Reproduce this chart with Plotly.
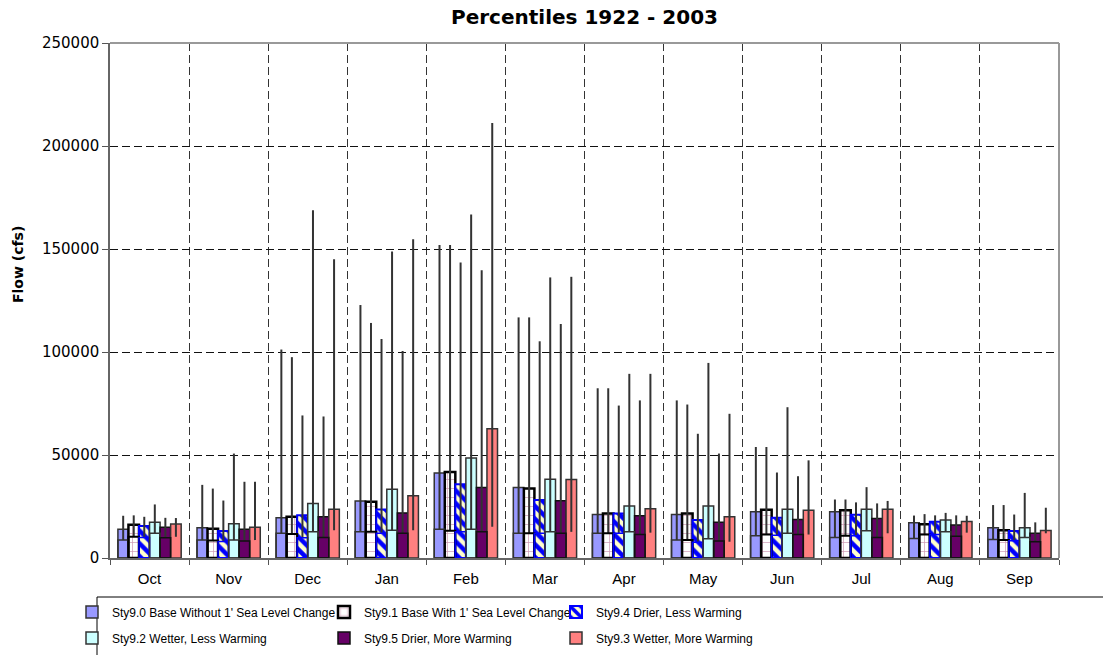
import plotly.graph_objects as go

# Months of the water year
months = ["Oct", "Nov", "Dec", "Jan", "Feb", "Mar", "Apr", "May", "Jun", "Jul", "Aug", "Sep"]

# Scenario names
names = [
    "Sty9.0 Base Without 1' Sea Level Change",
    "Sty9.1 Base With 1' Sea Level Change",
    "Sty9.4 Drier, Less Warming",
    "Sty9.2 Wetter, Less Warming",
    "Sty9.5 Drier, More Warming",
    "Sty9.3 Wetter, More Warming",
]

# Bar height (cfs) per scenario
bar_90 = [13900, 14700, 19500, 27700, 41300, 34200, 21100, 21100, 22400, 22400, 17100, 14700]
bar_91 = [16200, 14200, 20000, 27300, 41800, 33700, 21600, 21600, 23400, 23200, 16400, 13500]
bar_94 = [15500, 13100, 20800, 23600, 35800, 28100, 21600, 18400, 19500, 21000, 17600, 13100]
bar_92 = [17300, 16600, 26500, 33400, 48600, 38200, 25200, 25200, 23700, 23700, 18400, 14700]
bar_95 = [14900, 13900, 20000, 21900, 34200, 27800, 20500, 17300, 18700, 19200, 16000, 12000]
bar_93 = [16500, 14900, 23700, 30200, 62800, 38100, 23900, 20000, 23200, 23700, 17700, 13400]

# Lower percentile (cfs) per scenario
low_90 = [8700, 8700, 12000, 12700, 13900, 12000, 12000, 8700, 10800, 10000, 9500, 9000]
low_91 = [10300, 8500, 11600, 12700, 13200, 12000, 12000, 8700, 11400, 10800, 11400, 8700]
low_94 = [10000, 8000, 9800, 12000, 12700, 12000, 12000, 7600, 11000, 10800, 11400, 8400]
low_92 = [12000, 8700, 12700, 13500, 13900, 12700, 12700, 9400, 12000, 13200, 12700, 10000]
low_95 = [9800, 8200, 10000, 12000, 12700, 12000, 11400, 8200, 11400, 10000, 10600, 7900]
low_93 = [10300, 8700, 13500, 13500, 15200, 12700, 12300, 7900, 11400, 12000, 12300, 12000]

# Upper percentile (cfs) per scenario
high_90 = [20500, 35500, 101200, 122800, 152000, 116800, 82400, 76500, 53900, 28400, 20600, 25700]
high_91 = [20700, 33700, 97500, 114100, 152000, 116800, 82400, 74500, 53900, 28400, 21300, 25700]
high_94 = [20000, 27900, 69200, 106300, 143400, 105200, 74000, 60300, 41500, 27000, 20700, 21100]
high_92 = [26000, 50700, 168800, 148800, 166800, 136200, 89400, 94700, 73200, 34400, 21900, 31600]
high_95 = [19500, 37000, 68700, 100500, 139700, 113600, 76500, 50700, 39700, 26500, 20700, 17300]
high_93 = [19400, 37000, 145000, 154700, 211200, 136500, 89400, 70000, 47400, 27700, 20500, 24400]

y_ticks = [0, 50000, 100000, 150000, 200000, 250000]

bars = [bar_90, bar_91, bar_94, bar_92, bar_95, bar_93]
lows = [low_90, low_91, low_94, low_92, low_95, low_93]
highs = [high_90, high_91, high_94, high_92, high_95, high_93]

# Fill / outline styles
styles = [
    dict(color="#9999FF", line="#333333", lw=1.5, pattern=None, inner=True),
    dict(color="#FFFFFF", line="#000000", lw=2.5,
         pattern=dict(shape="+", fgcolor="#993366", size=9, solidity=0.15), inner=True),
    dict(color="#FFFFCC", line="#0000FF", lw=2,
         pattern=dict(shape="\\", fgcolor="#0000FF", bgcolor="#FFFFCC", size=9, solidity=0.5,
                      fillmode="replace"), inner=True),
    dict(color="#CCFFFF", line="#333333", lw=1.5, pattern=None, inner=True),
    dict(color="#660066", line="#111111", lw=1.5, pattern=None, inner=True),
    dict(color="#FF8080", line="#333333", lw=1.5, pattern=None, inner=False),
]

# Legend slot (column x in px, row y in px) for each scenario
legend_slots = [(72, 612), (324, 612), (556, 612), (72, 638), (324, 638), (556, 638)]

W, H = 1103, 655
fig = go.Figure()

for k in range(6):
    st = styles[k]
    marker = dict(color=st["color"], line=dict(color=st["line"], width=st["lw"]))
    if st["pattern"] is not None:
        marker["pattern"] = st["pattern"]
    legend_id = "legend" if k == 0 else f"legend{k + 1}"
    fig.add_trace(go.Bar(
        x=months, y=bars[k], name=names[k], offsetgroup=str(k),
        marker=marker, legend=legend_id,
        error_y=dict(type="data", symmetric=False,
                     array=[h - b for h, b in zip(highs[k], bars[k])],
                     arrayminus=[b - l for b, l in zip(bars[k], lows[k])],
                     color="#333333", thickness=2, width=0),
    ))

# Outline of the lower segment marks the lower percentile inside each bar
for k in range(6):
    st = styles[k]
    if not st["inner"]:
        continue
    fig.add_trace(go.Bar(
        x=months, y=lows[k], offsetgroup=str(k), showlegend=False, hoverinfo="skip",
        marker=dict(color="rgba(0,0,0,0)", line=dict(color=st["line"], width=1.5 if k != 1 else 2)),
    ))

layout_legends = {}
for k, (lx, ly) in enumerate(legend_slots):
    key = "legend" if k == 0 else f"legend{k + 1}"
    layout_legends[key] = dict(
        x=lx / W, y=1 - ly / H, xref="container", yref="container",
        xanchor="left", yanchor="middle", orientation="v",
        bgcolor="rgba(0,0,0,0)", borderwidth=0, itemwidth=30,
        font=dict(family="Liberation Sans", size=12, color="#000000"),
    )

L, R, T, B = 110, 1059, 43, 558
fig.update_layout(
    width=W, height=H,
    margin=dict(l=L, r=W - R, t=T, b=H - B, autoexpand=False),
    paper_bgcolor="#FFFFFF", plot_bgcolor="#FFFFFF",
    barmode="group", bargap=0.2, bargroupgap=0,
    title=dict(text="<b>Percentiles 1922 - 2003</b>", x=(L + R) / 2 / W, xanchor="center",
               y=1 - 17 / H, yanchor="middle", xref="container", yref="container",
               font=dict(family="DejaVu Sans", size=20, color="#000000")),
    xaxis=dict(type="category", tickson="boundaries", ticks="outside", ticklen=5,
               tickcolor="#555555", showgrid=True, gridcolor="#333333", griddash="8px,4px",
               gridwidth=1, showline=True, linecolor="#666666", linewidth=1.5,
               tickfont=dict(family="Liberation Sans", size=15, color="#000000"),
               ticklabelstandoff=6),
    yaxis=dict(range=[0, 250000], tickvals=y_ticks, ticktext=[str(v) for v in y_ticks],
               ticks="outside", ticklen=6, tickcolor="#555555", showgrid=True,
               gridcolor="#111111", griddash="8px,4px", gridwidth=1, zeroline=False,
               showline=True, linecolor="#666666", linewidth=1.5,
               tickfont=dict(family="DejaVu Sans", size=15, color="#000000")),
    showlegend=True,
    **layout_legends,
)

py = lambda p: (B - p) / (B - T)
px = lambda p: (p - L) / (R - L)

# Plot-area border (top and right)
fig.add_shape(type="line", xref="paper", yref="paper", x0=0, x1=1, y0=1, y1=1,
              line=dict(color="#999999", width=2))
fig.add_shape(type="line", xref="paper", yref="paper", x0=1, x1=1, y0=0, y1=1,
              line=dict(color="#999999", width=2))

# Legend frame
fig.add_shape(type="rect", xref="paper", yref="paper", x0=px(97), x1=px(1110),
              y0=py(597), y1=py(670), line=dict(color="#000000", width=1),
              fillcolor="rgba(0,0,0,0)")

fig.add_annotation(text="<b>Flow (cfs)</b>", xref="paper", yref="paper",
                   x=px(18), y=py(265), textangle=-90, showarrow=False,
                   xanchor="center", yanchor="middle",
                   font=dict(family="DejaVu Sans", size=14, color="#000000"))

fig.write_html("out.html")
